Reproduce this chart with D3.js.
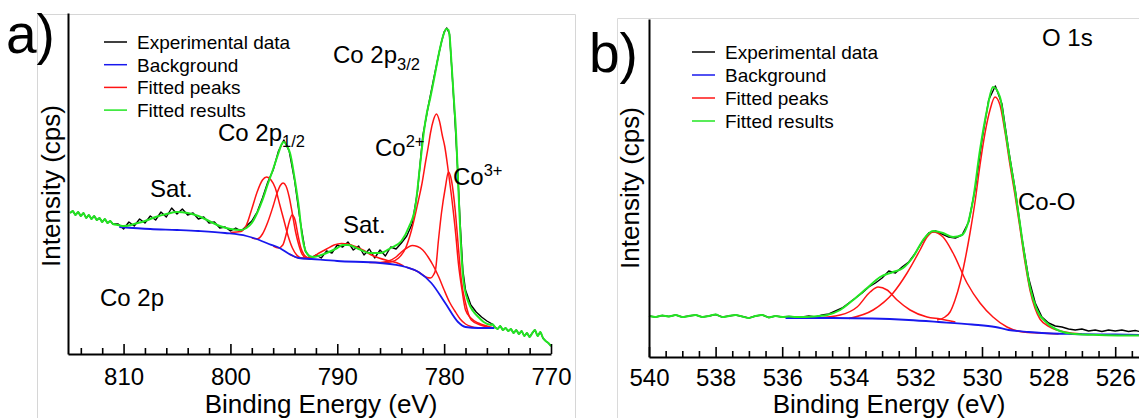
<!DOCTYPE html>
<html><head><meta charset="utf-8">
<script src="https://cdn.jsdelivr.net/npm/d3@7"></script>
<style>
html,body{margin:0;padding:0;background:#fff;}
svg{display:block;font-family:"Liberation Sans",Arial,Helvetica,sans-serif;}
</style></head><body>
<svg id="c" width="1139" height="418"></svg>
<script>
// ---------------- DATA ----------------
const legendLabels = ["Experimental data", "Background", "Fitted peaks", "Fitted results"];
const legendKeys = ["exp", "bg", "peak", "fit"];

// Panel a: Co 2p  [binding energy eV, intensity a.u.]
const ticksA = [810, 800, 790, 780, 770];
const minorTicksA = [814, 812, 808, 806, 804, 802, 798, 796, 794, 792, 788, 786, 784, 782, 778, 776, 774, 772];
const expA = [
[815.00,1410],[814.75,1430],[814.50,1390],[814.25,1420],[814.00,1380],[813.75,1410],[813.50,1360],[813.25,1390],[813.00,1350],[812.75,1380],[812.50,1340],[812.25,1360],[812.00,1320],[811.75,1350],[811.50,1310],[811.25,1330],[811.00,1300],
[810.5,1300],[810.0,1250],[809.5,1320],[809.0,1280],[808.5,1350],[808.0,1310],[807.5,1380],[807.0,1340],[806.5,1420],[806.0,1370],[805.5,1460],[805.0,1400],[804.5,1450],[804.0,1390],[803.5,1410],[803.0,1350],[802.5,1370],[802.0,1310],[801.5,1320],[801.0,1260],[800.5,1270],[800.0,1230],[799.5,1260],[799.0,1230],[798.5,1280],[798.0,1330],[797.5,1420],[797.0,1560],[796.5,1720],[796.0,1840],[795.5,2030],[795.0,2140],[794.5,2030],[794.0,1740],[793.5,1350],[793.0,1030],[792.5,960],[792.0,990],[791.5,960],[791.0,1030],[790.5,1010],[790.0,1090],[789.5,1070],[789.0,1120],[788.5,1040],[788.0,1080],[787.5,990],[787.0,1050],[786.5,960],[786.0,1040],[785.5,980],[785.0,1070],[784.5,1050],[784.0,1110],[783.5,1180],[783.0,1300],[782.5,1620],[782.0,2180],[781.5,2470],[781.0,2740],[780.5,3000],[780.25,3120],[780.0,3220],[779.75,3260],[779.5,3200],[779.25,2800],[779.0,2360],[778.75,1870],[778.5,1310],[778.25,840],[778.0,640],[777.5,490],[777.0,420],[776.5,370],[776.0,330],[775.5,300],
[775.25,270],[775.00,250],[774.75,280],[774.50,240],[774.25,260],[774.00,230],[773.75,250],[773.50,210],[773.25,240],[773.00,200],[772.75,230],[772.50,180],[772.25,210],[772.00,170],[771.75,210],[771.50,240],[771.25,180],[771.00,220],[770.75,160],[770.50,130],[770.25,110],[770.00,80]
];
const fitA = [
[810.5,1290],[810.0,1280],[809.5,1285],[809.0,1300],[808.0,1330],[807.0,1370],[806.0,1400],[805.0,1420],[804.0,1410],[803.0,1380],[802.0,1330],[801.0,1280],[800.0,1250],[799.0,1240],[798.5,1260],[798.0,1310],[797.5,1410],[797.0,1540],[796.5,1700],[796.0,1850],[795.5,2010],[795.2,2100],[795.0,2120],[794.7,2080],[794.4,2000],[794.0,1760],[793.6,1470],[793.3,1190],[793.0,1040],[792.6,980],[792.2,970],[791.5,990],[791.0,1010],[790.0,1060],[789.5,1090],[789.0,1090],[788.0,1050],[787.0,1010],[786.0,1010],[785.0,1060],[784.0,1130],[783.3,1270],[782.7,1470],[782.3,1840],[781.9,2220],[781.6,2420],[781.3,2560],[781.0,2720],[780.7,2890],[780.4,3050],[780.1,3180],[779.8,3250],[779.6,3240],[779.5,3190],[779.3,2890],[779.1,2560],[778.9,2240],[778.7,1740],[778.5,1240],[778.2,740],[777.7,510],[777.3,430],[776.8,370],[776.3,320],[775.6,290]
];
const bgA = [
[810.4,1270],[807.5,1250],[805,1240],[803,1230],[800.5,1210],[798.5,1180],[797.3,1140],[796.4,1100],[795.4,1060],[794.5,1000],[793.6,960],[792.4,950],[790,930],[786,910],[783.6,870],[782.4,820],[781.2,710],[779.9,510],[778.7,320],[778,270],[776.8,260],[775.3,260]
];
const peakA1 = [[800.0,1215],[799.0,1225],[798.5,1290],[798.0,1450],[797.5,1620],[797.0,1740],[796.6,1770],[796.2,1740],[795.8,1660],[795.4,1500],[795.0,1340],[794.6,1180],[794.2,1060],[793.8,990],[793.4,960],[793.0,955],[792.4,950]];
const peakA2 = [[798.0,1160],[797.5,1150],[797.0,1200],[796.5,1320],[796.0,1480],[795.6,1620],[795.3,1690],[795.07,1710],[794.8,1680],[794.5,1570],[794.2,1400],[793.9,1220],[793.6,1090],[793.3,1000],[793.0,965],[792.5,952]];
const peakA3 = [[796.0,1080],[795.5,1060],[795.1,1090],[794.8,1190],[794.5,1320],[794.23,1390],[793.95,1340],[793.7,1200],[793.4,1060],[793.1,990],[792.8,965],[792.4,950]];
const peakASat = [[794.5,1000],[793.5,960],[792.5,965],[791.7,1010],[791.0,1050],[790.3,1090],[789.6,1105],[789.0,1100],[788.3,1075],[787.6,1040],[786.9,995],[786.1,960],[785.3,935],[784.5,915],[783.8,880]];
const peakABroad = [[787.0,915],[786.0,915],[785.2,930],[784.5,970],[784.0,1020],[783.5,1060],[783.0,1085],[782.5,1075],[782.0,1040],[781.5,970],[781.0,880],[780.5,770],[780.0,640],[779.5,520],[779.0,430],[778.5,350],[778.0,300],[777.5,275],[776.8,262],[775.5,260]];
const peakACo2 = [[786.0,910],[785.0,920],[784.26,960],[783.6,1060],[783.05,1240],[782.4,1540],[782.1,1690],[781.74,1920],[781.46,2090],[781.28,2210],[781.0,2340],[780.72,2400],[780.44,2330],[780.16,2180],[779.95,2080],[779.6,1820],[779.3,1570],[778.9,1180],[778.67,910],[778.3,620],[778.0,440],[777.5,360],[776.8,310],[776.0,280],[775.3,260]];
const peakACo3 = [[783.6,870],[782.4,820],[781.6,765],[781.28,760],[781.0,790],[780.81,840],[780.53,1140],[780.25,1410],[779.88,1670],[779.6,1820],[779.32,1740],[778.94,1410],[778.67,1070],[778.39,740],[778.0,510],[777.46,340],[776.6,290],[775.5,262]];

// Panel b: O 1s
const ticksB = [540, 538, 536, 534, 532, 530, 528, 526];
const minorTicksB = [539.5, 539, 538.5, 537.5, 537, 536.5, 535.5, 535, 534.5, 533.5, 533, 532.5, 531.5, 531, 530.5, 529.5, 529, 528.5, 527.5, 527, 526.5, 525.5];
const expB = [
[540.0,410],[539.8,400],[539.6,415],[539.4,405],[539.2,420],[539.0,400],[538.8,410],[538.6,420],[538.4,400],[538.2,410],[538.0,425],[537.8,400],[537.6,410],[537.4,420],[537.2,405],[537.0,390],[536.8,410],[536.6,420],[536.4,395],[536.2,410],[536.0,400],[535.8,405],[535.6,400],
[535.4,400],[535.2,410],[535.0,400],[534.8,420],[534.6,430],[534.4,460],[534.2,490],[534.0,540],[533.8,590],[533.6,640],[533.4,700],[533.2,740],[533.0,790],[532.8,860],[532.6,840],[532.4,900],[532.2,950],[532.0,1040],[531.8,1150],[531.6,1240],[531.4,1260],[531.2,1230],[531.0,1200],[530.8,1190],[530.6,1220],[530.4,1350],[530.2,1690],[530.0,2170],[529.8,2570],[529.6,2710],[529.4,2530],[529.2,2070],[529.0,1670],[528.8,1190],[528.6,790],[528.4,540],[528.2,400],[528.0,340],[527.8,310],[527.6,300],[527.4,280],[527.2,270],[527.0,280],[526.8,260],[526.6,270],[526.4,255],[526.2,270],[526.0,260],[525.8,270],[525.6,255],[525.4,265],[525.2,250]
];
const fitB = [
[535.4,400],[534.9,410],[534.65,420],[534.26,470],[533.87,570],[533.45,690],[533.06,800],[532.67,850],[532.37,890],[532.07,1000],[531.77,1170],[531.47,1260],[531.17,1240],[530.87,1200],[530.6,1220],[530.42,1340],[530.27,1570],[530.06,2070],[529.85,2470],[529.67,2700],[529.46,2600],[529.31,2290],[529.16,1970],[529.01,1670],[528.86,1330],[528.71,990],[528.56,700],[528.35,470],[528.05,340],[527.66,260],[527.21,230],[526.5,220],[525.8,215],[525.2,215]
];
const bgB = [[535.9,390],[534.5,390],[533.3,385],[532.2,370],[531.3,350],[530.3,325],[529.6,300],[529.2,270],[528.6,250],[528.2,240],[527.3,230],[526.0,225],[525.2,220]];
const peakB1 = [[535.0,390],[534.26,420],[533.75,500],[533.36,650],[533.12,700],[532.85,670],[532.55,570],[532.16,470],[531.65,400],[531.26,380],[530.8,350]];
const peakB2 = [[534.0,385],[533.27,470],[532.67,640],[532.25,840],[531.86,1070],[531.65,1200],[531.47,1250],[531.17,1200],[530.87,1040],[530.45,740],[530.06,540],[529.67,400],[529.25,300],[528.77,250],[528.26,240],[527.7,230]];
const peakB3 = [[531.35,370],[531.11,400],[530.96,450],[530.81,570],[530.66,740],[530.51,970],[530.36,1240],[530.21,1550],[530.06,1920],[529.91,2240],[529.76,2470],[529.61,2600],[529.46,2520],[529.31,2250],[529.16,1920],[529.01,1620],[528.86,1290],[528.71,950],[528.56,670],[528.41,490],[528.26,380],[527.96,300],[527.51,250],[527.0,230]];

// ---------------- DRAW ----------------
const COLORS = {exp: "#000000", bg: "#1818ee", peak: "#ff1414", fit: "#22e622"};
const svg = d3.select("#c");

// light grey panel frames
svg.append("path").attr("d", "M37.5,418 V14.5 H575.5 V418").attr("fill", "none").attr("stroke", "#d6d6d6").attr("stroke-width", 1);
svg.append("path").attr("d", "M617.5,418 V18.5 H1139").attr("fill", "none").attr("stroke", "#dadada").attr("stroke-width", 1);

function drawPanel(p) {
  const x = d3.scaleLinear().domain(p.xDomain).range(p.xRange);
  const y = d3.scaleLinear().domain(p.yDomain).range(p.yRange);
  const g = svg.append("g");
  const line = d3.line().x(d => x(d[0])).y(d => y(d[1])).curve(d3.curveMonotoneX);
  const rawLine = d3.line().x(d => x(d[0])).y(d => y(d[1]));

  // experimental data
  g.append("path").attr("d", rawLine(p.exp)).attr("fill", "none").attr("stroke", COLORS.exp).attr("stroke-width", 1.4).attr("stroke-linejoin", "round");
  // fitted peaks
  p.peaks.forEach(pk => g.append("path").attr("d", line(pk)).attr("fill", "none").attr("stroke", COLORS.peak).attr("stroke-width", 1.5));
  // background
  g.append("path").attr("d", line(p.bg)).attr("fill", "none").attr("stroke", COLORS.bg).attr("stroke-width", 1.8);
  // fitted results (joined with raw data outside the fit window)
  const fitStart = p.fit[0][0], fitEnd = p.fit[p.fit.length - 1][0];
  const fitFull = p.exp.filter(d => d[0] > fitStart).concat(p.fit, p.exp.filter(d => d[0] < fitEnd && p.tailFromExp));
  g.append("path").attr("d", line(fitFull)).attr("fill", "none").attr("stroke", COLORS.fit).attr("stroke-width", 2).attr("stroke-linejoin", "round");

  // minor ticks (no labels)
  const minorAxis = d3.axisBottom(x).tickValues(p.minor).tickSize(-6).tickSizeOuter(0).tickFormat("");
  const gm = g.append("g").attr("transform", `translate(0,${p.yRange[0]})`).call(minorAxis);
  gm.select(".domain").remove();
  gm.selectAll("text").remove();
  gm.selectAll("line").attr("stroke", "#000").attr("stroke-width", 1.6);
  // major ticks with labels
  const majorAxis = d3.axisBottom(x).tickValues(p.ticks).tickSize(-10).tickSizeOuter(0).tickPadding(p.pad).tickFormat(d3.format("d"));
  const gx = g.append("g").attr("transform", `translate(0,${p.yRange[0]})`).call(majorAxis);
  gx.select(".domain").attr("stroke", "#000").attr("stroke-width", 2);
  gx.selectAll("line").attr("stroke", "#000").attr("stroke-width", 1.6);
  gx.selectAll("text").attr("font-size", 24).attr("font-family", "Liberation Sans, Arial, sans-serif").attr("fill", "#000");
  const gy = g.append("g").attr("transform", `translate(${p.xRange[0]},0)`).call(d3.axisLeft(y).tickValues([]).tickSizeOuter(0));
  gy.select(".domain").attr("stroke", "#000").attr("stroke-width", 2);

  // axis titles
  g.append("text").attr("x", p.xTitle[0]).attr("y", p.xTitle[1]).attr("text-anchor", "middle").attr("font-size", 26).text("Binding Energy (eV)");
  g.append("text").attr("transform", `translate(${p.yTitle[0]},${p.yTitle[1]}) rotate(-90)`).attr("text-anchor", "middle").attr("font-size", 26).text("Intensity (cps)");

  // panel letter
  g.append("text").attr("x", p.letter[0]).attr("y", p.letter[1]).attr("font-size", 55).text(p.letter[2]);

  // legend
  legendLabels.forEach((lab, i) => {
    const ly = p.legend[1] + i * p.legend[2];
    g.append("line").attr("x1", p.legend[0]).attr("x2", p.legend[0] + 23).attr("y1", ly).attr("y2", ly).attr("stroke", COLORS[legendKeys[i]]).attr("stroke-width", 1.5);
    g.append("text").attr("x", p.legend[0] + 33).attr("y", ly + 7).attr("font-size", 19).text(lab);
  });

  // annotations
  p.notes.forEach(n => {
    const t = g.append("text").attr("x", n.x).attr("y", n.y).attr("font-size", 24);
    t.append("tspan").text(n.main);
    if (n.script) t.append("tspan").attr("font-size", 16.5).attr("dy", n.dy).text(n.script);
  });
  return {x, y};
}

drawPanel({
  xDomain: [815.2, 770], xRange: [68, 551], yDomain: [0, 3410], yRange: [354, 13],
  exp: expA, fit: fitA, bg: bgA, tailFromExp: true,
  peaks: [peakA1, peakA2, peakA3, peakASat, peakABroad, peakACo2, peakACo3],
  ticks: ticksA, minor: minorTicksA, pad: 14,
  xTitle: [321, 413], yTitle: [60, 186], letter: [6, 53, "a)"],
  legend: [104, 42, 22.7],
  notes: [
    {x: 333, y: 63, main: "Co 2p", script: "3/2", dy: 7},
    {x: 218, y: 141, main: "Co 2p", script: "1/2", dy: 6},
    {x: 150, y: 197, main: "Sat."},
    {x: 343, y: 233, main: "Sat."},
    {x: 375, y: 156, main: "Co", script: "2+", dy: -9},
    {x: 453, y: 185, main: "Co", script: "3+", dy: -9},
    {x: 100, y: 306, main: "Co 2p"}
  ]
});

drawPanel({
  xDomain: [540, 525], xRange: [649, 1148.5], yDomain: [0, 3380], yRange: [357, 19],
  exp: expB, fit: fitB, bg: bgB, tailFromExp: false,
  peaks: [peakB1, peakB2, peakB3],
  ticks: ticksB, minor: minorTicksB, pad: 12,
  xTitle: [889, 413], yTitle: [639, 188], letter: [589, 72, "b)"],
  legend: [692, 52, 23],
  notes: [
    {x: 1042, y: 46, main: "O 1s"},
    {x: 1018, y: 210, main: "Co-O"}
  ]
});
</script></body></html>
